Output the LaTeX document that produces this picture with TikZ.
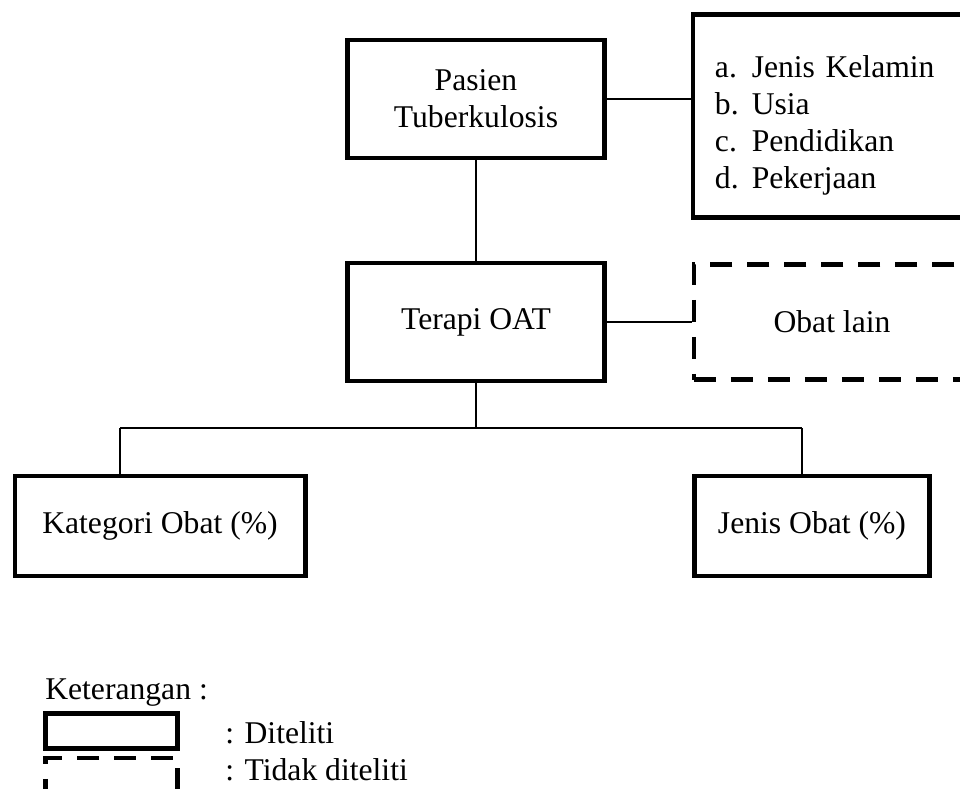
\documentclass[tikz,border=0pt]{standalone}
\usepackage{fontspec}
\setmainfont{Liberation Serif}
\usetikzlibrary{positioning,calc}
\tikzset{
  box/.style={draw=black, line width=3.5pt, fill=white, minimum width=6.43cm,
              minimum height=2.95cm, align=center, font=\fontsize{22.5}{26.3}\selectfont},
  dbox/.style={box, dash pattern=on 15.6pt off 10.7pt},
  link/.style={draw=black, line width=1pt},
  txt/.style={font=\fontsize{22.5}{26.3}\selectfont, inner sep=0pt, anchor=west},
}
\newcommand{\itm}[2]{\makebox[0.92cm][l]{#1}#2}
\begin{document}
\begin{tikzpicture}[x=0.025cm, y=-0.025cm]
    \useasboundingbox (0,0) rectangle (960,789);
    \clip (0,0) rectangle (960,789);
    \node[box] (pas) at (476,99) {Pasien\\Tuberkulosis};
    \node[box, minimum width=7.5cm, minimum height=5.075cm, text width=6.4cm,
          inner xsep=0.55cm, align=left] (kar) at (843,116)
         {\rule{0pt}{29pt}\itm{a.}{Jenis Kelamin}\\\itm{b.}{Usia}\\\itm{c.}{Pendidikan}\\\itm{d.}{Pekerjaan}};
    \node[box] (oat) at (476,322) {Terapi OAT};
    \node[dbox, minimum width=6.9cm, minimum height=2.875cm] (lain) at (832,322) {Obat lain};
    \node[box, minimum width=7.25cm, minimum height=2.5cm] (kat) at (160,526) {Kategori Obat (\%)};
    \node[box, minimum width=5.875cm, minimum height=2.5cm] (jen) at (812,526) {Jenis Obat (\%)};
    \draw[link] (pas.east) -- (pas.east -| kar.west);
    \draw[link] (pas) -- (oat);
    \draw[link] (oat) -- (lain);
    % percabangan ke bawah
    \coordinate (cabang) at (476,428);
    \coordinate (kiri) at (120,428);
    \coordinate (kanan) at (802,428);
    \draw[link] (oat.south) -- (cabang);
    \draw[link] (kiri) -- (kanan);
    \draw[link] (kiri) -- (kiri |- kat.north);
    \draw[link] (kanan) -- (kanan |- jen.north);
    % keterangan
    \node[txt] (ket) at (45,693) {Keterangan :};
    \node[box, minimum width=3.3cm, minimum height=0.88cm] (lgA) at (111.5,731) {};
    \node[dbox, minimum width=3.3cm, minimum height=1.2cm] (lgB) at (111.5,782) {};
    \node[txt] (tA) at (225,733) {: Diteliti};
    \node[txt] (tB) at (225,770) {: Tidak diteliti};
  \end{tikzpicture}
\end{document}
